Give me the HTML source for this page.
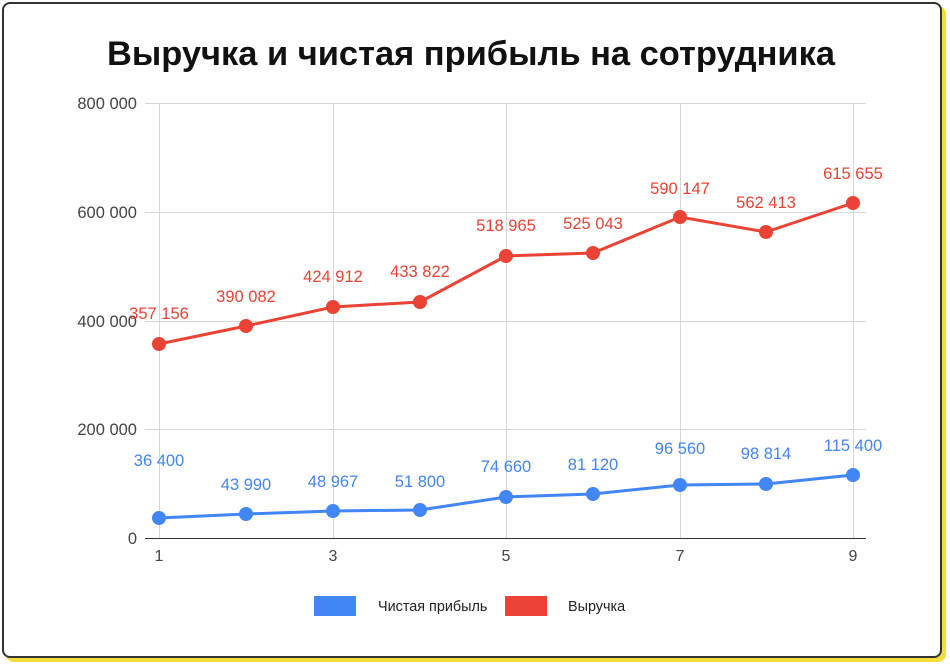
<!DOCTYPE html>
<html><head><meta charset="utf-8"><style>
html,body{margin:0;padding:0;background:#fff;width:950px;height:665px;overflow:hidden}
.card{position:absolute;left:2px;top:2px;width:936px;height:652px;border:2px solid #333;border-radius:8px;box-shadow:4px 4px 0 #f4dc3c;background:#fff}
svg{position:absolute;left:0;top:0}
</style></head><body>
<div class="card"></div>
<svg width="950" height="665" font-family="Liberation Sans, sans-serif">
<text x="471" y="65" text-anchor="middle" font-size="34" font-weight="bold" fill="#111" textLength="728" lengthAdjust="spacingAndGlyphs">Выручка и чистая прибыль на сотрудника</text>
<g stroke="#d6d6d6" stroke-width="1">
<line x1="145" y1="103.5" x2="866" y2="103.5"/><line x1="145" y1="212.5" x2="866" y2="212.5"/><line x1="145" y1="321.5" x2="866" y2="321.5"/><line x1="145" y1="429.5" x2="866" y2="429.5"/>
<line x1="333.5" y1="103" x2="333.5" y2="538"/><line x1="506.5" y1="103" x2="506.5" y2="538"/><line x1="680.5" y1="103" x2="680.5" y2="538"/><line x1="853.5" y1="103" x2="853.5" y2="538"/><line x1="159.5" y1="103" x2="159.5" y2="538"/>
</g>
<line x1="145" y1="538.5" x2="866" y2="538.5" stroke="#333" stroke-width="1"/>
<g font-size="16.5" fill="#444" text-anchor="end">
<text x="137" y="109">800 000</text><text x="137" y="218">600 000</text><text x="137" y="327">400 000</text><text x="137" y="435">200 000</text><text x="137" y="544">0</text>
</g>
<g font-size="16" fill="#444" text-anchor="middle">
<text x="159" y="561">1</text><text x="333" y="561">3</text><text x="506" y="561">5</text><text x="680" y="561">7</text><text x="853" y="561">9</text>
</g>
<polyline fill="none" stroke="#ea4335" stroke-width="3" points="159,344 246,326 333,307 420,302 506,256 593,253 680,217 766,232 853,203"/>
<g fill="#ea4335"><circle cx="159" cy="344" r="7"/><circle cx="246" cy="326" r="7"/><circle cx="333" cy="307" r="7"/><circle cx="420" cy="302" r="7"/><circle cx="506" cy="256" r="7"/><circle cx="593" cy="253" r="7"/><circle cx="680" cy="217" r="7"/><circle cx="766" cy="232" r="7"/><circle cx="853" cy="203" r="7"/></g>
<g fill="#ea4335" font-size="16.5" text-anchor="middle">
<text x="159" y="319">357 156</text><text x="246" y="302">390 082</text><text x="333" y="282">424 912</text><text x="420" y="277">433 822</text><text x="506" y="231">518 965</text><text x="593" y="229">525 043</text><text x="680" y="194">590 147</text><text x="766" y="208">562 413</text><text x="853" y="179">615 655</text>
</g>
<polyline fill="none" stroke="#4285f4" stroke-width="3" points="159,518 246,514 333,511 420,510 506,497 593,494 680,485 766,484 853,475"/>
<g fill="#4285f4"><circle cx="159" cy="518" r="7"/><circle cx="246" cy="514" r="7"/><circle cx="333" cy="511" r="7"/><circle cx="420" cy="510" r="7"/><circle cx="506" cy="497" r="7"/><circle cx="593" cy="494" r="7"/><circle cx="680" cy="485" r="7"/><circle cx="766" cy="484" r="7"/><circle cx="853" cy="475" r="7"/></g>
<g fill="#4285f4" font-size="16.5" text-anchor="middle">
<text x="159" y="466">36 400</text><text x="246" y="490">43 990</text><text x="333" y="487">48 967</text><text x="420" y="487">51 800</text><text x="506" y="472">74 660</text><text x="593" y="470">81 120</text><text x="680" y="454">96 560</text><text x="766" y="459">98 814</text><text x="853" y="451">115 400</text>
</g>
<rect x="314" y="596" width="42" height="20" fill="#4285f4"/>
<text x="378" y="611" font-size="14.4" fill="#222">Чистая прибыль</text>
<rect x="505" y="596" width="42" height="20" fill="#ea4335"/>
<text x="568" y="611" font-size="14.4" fill="#222">Выручка</text>
</svg>
</body></html>
